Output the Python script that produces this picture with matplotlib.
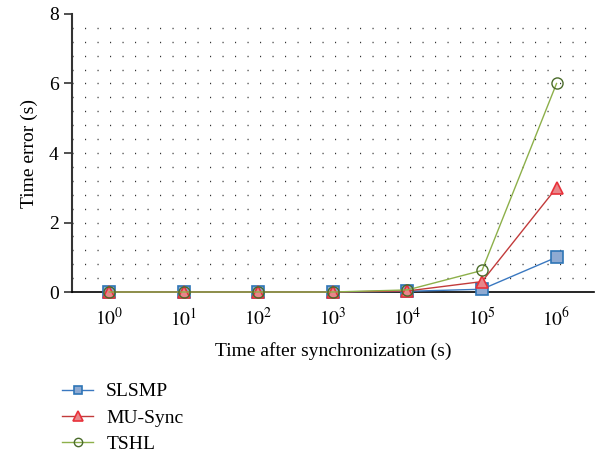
import matplotlib
matplotlib.use("Agg")
import matplotlib.pyplot as plt
import numpy as np

plt.rcParams['font.family'] = ['Liberation Serif', 'DejaVu Serif']
plt.rcParams['mathtext.fontset'] = 'stix'

x_labels = [r'$10^{0}$', r'$10^{1}$', r'$10^{2}$', r'$10^{3}$', r'$10^{4}$', r'$10^{5}$', r'$10^{6}$']
slsmp = [0, 0, 0, 0, 0.02, 0.08, 1.0]
musync = [0, 0, 0, 0, 0.03, 0.30, 3.0]
tshl = [0, 0, 0, 0, 0.06, 0.62, 6.0]

x = np.arange(len(x_labels))

fig = plt.figure(figsize=(5.95, 4.53), dpi=100)
ax = fig.add_axes([0.121, 0.3554, 0.877, 0.6137])

for yv in np.arange(0.4, 8.0, 0.4):
    ax.axhline(yv, color='#333333', lw=1.0, ls=(0, (0.8, 8.2)), zorder=0)

ax.plot(x, slsmp, color='#3a78c0', lw=1.0, marker='s', ms=8,
        mfc='#8eaad2', mec='#2e75b6', mew=1.2, label='SLSMP', clip_on=False, zorder=3)
ax.plot(x, musync, color='#c23b3b', lw=1.0, marker='^', ms=9,
        mfc='#e8868a', mec='#e8313a', mew=1.2, label='MU-Sync', clip_on=False, zorder=4)
ax.plot(x, tshl, color='#8db04a', lw=1.0, marker='o', ms=8,
        mfc='none', mec='#4a6b2a', mew=1.0, label='TSHL', clip_on=False, zorder=5)

ax.set_xlim(-0.5, 6.5)
ax.set_ylim(0, 8)
ax.set_xticks(x)
ax.set_xticklabels(x_labels)
ax.set_yticks([0, 2, 4, 6, 8])
ax.tick_params(axis='x', length=0, pad=11, labelsize=14)
ax.tick_params(axis='y', length=6, width=1.2, color='#333333', labelsize=14, direction='out')
ax.spines['top'].set_visible(False)
ax.spines['right'].set_visible(False)
ax.spines['left'].set_color('#333333')
ax.spines['left'].set_linewidth(1.5)
ax.spines['bottom'].set_color('black')
ax.spines['bottom'].set_linewidth(1.2)

ax.set_xlabel('Time after synchronization (s)', fontsize=14, labelpad=9)
ax.set_ylabel('Time error (s)', fontsize=14, labelpad=8)

fig.legend(loc='upper left', bbox_to_anchor=(0.105, 0.155), frameon=False,
           fontsize=14, handlelength=1.55, labelspacing=0.45, handletextpad=0.7,
           borderaxespad=0, borderpad=0, markerscale=0.75)

fig.savefig('out.png', dpi=100)
